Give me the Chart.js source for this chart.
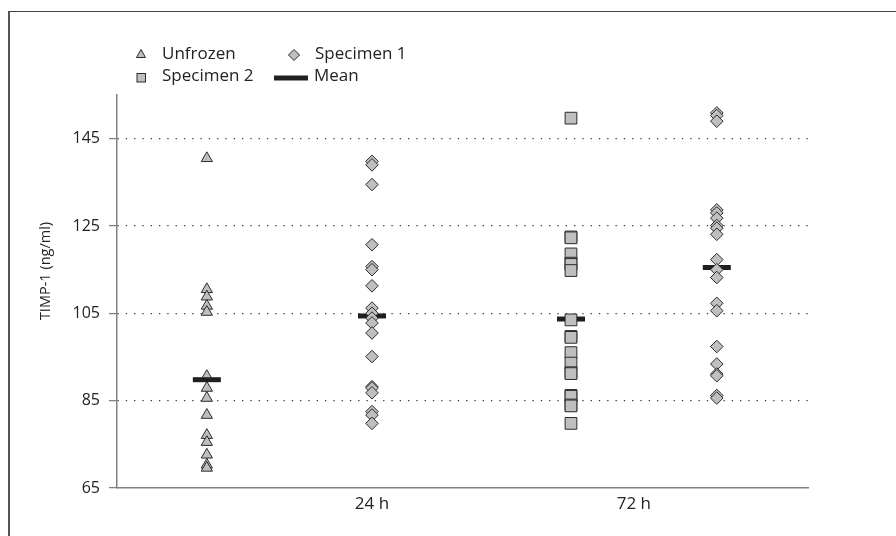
<!DOCTYPE html>
<html>
<head>
<meta charset="utf-8">
<title>TIMP-1</title>
<script src="https://cdn.jsdelivr.net/npm/chart.js@4/dist/chart.umd.min.js"></script>
<style>
  html, body { margin: 0; padding: 0; background: #fff; }
  #wrap { position: relative; width: 896px; height: 536px; overflow: hidden; }
  #frame { position: absolute; left: 8px; top: 11px; right: -4px; bottom: -4px; border-left: 2px solid #555; border-top: 1px solid #444; }
  canvas { position: absolute; left: 0; top: 0; }
</style>
</head>
<body>
<div id="wrap">
  <div id="frame"></div>
  <canvas id="chart" width="896" height="536"></canvas>
</div>
<script>
// Adatok (leolvasva az ábráról)
const seriesNames = ['Unfrozen', 'Specimen 1', 'Specimen 2', 'Mean'];
const yTitle = 'TIMP-1 (ng/ml)';
// oszlopok helye a vízszintes tengelyen (0..100)
const groupX = [13, 36.9, 65.7, 86.8];
const xTicks = [36.9, 74.8];
const xTickLabels = ['24 h', '72 h'];
const yTicks = [65, 85, 105, 125, 145];

const unfrozen = [140.5, 110.5, 108.8, 106.7, 105.3, 90.6, 87.9, 85.6, 81.7, 77.1, 75.5, 72.6, 70.3, 69.6];
const specimen1At24 = [139.8, 139.0, 134.5, 120.7, 115.7, 115.0, 111.3, 106.2, 105.0, 103.9, 102.8, 100.5, 95.1, 88.2, 87.9, 86.8, 82.5, 81.7, 79.8];
const specimen2At72 = [149.7, 122.5, 122.3, 118.6, 116.5, 116.2, 114.8, 103.5, 99.7, 99.5, 96.0, 93.6, 91.4, 91.2, 86.2, 86.0, 84.0, 83.8, 79.8];
const specimen1At72 = [150.9, 150.3, 149.0, 128.7, 128.0, 126.8, 125.1, 124.5, 123.1, 117.3, 115.0, 113.2, 107.3, 105.6, 97.4, 93.4, 91.1, 90.7, 86.2, 85.6];
const means = [89.8, 104.4, 103.7, 115.5];

const FILL = '#bfbfbf';
const EDGE = '#2b2b2b';
const TEXT = '#222';

const toPoints = (vals, x) => vals.map(v => ({ x: x, y: v }));

function markerSet(label, vals, x, style, radius, order) {
    return {
        label: label,
        data: toPoints(vals, x),
        pointStyle: style,
        pointRadius: radius,
        backgroundColor: FILL,
        borderColor: EDGE,
        borderWidth: 1,
        order: order
    };
}

// Jelmagyarázat + tengelycím
const cornerLegend = {
    id: 'cornerLegend',
    afterDraw(chart) {
        const ctx = chart.ctx;
        ctx.save();
        ctx.fillStyle = FILL;
        ctx.strokeStyle = EDGE;
        ctx.lineWidth = 1;

        // háromszög
        ctx.beginPath();
        ctx.moveTo(141, 49.5);
        ctx.lineTo(145.5, 57.5);
        ctx.lineTo(136.5, 57.5);
        ctx.closePath();
        ctx.fill(); ctx.stroke();

        // rombusz
        ctx.beginPath();
        ctx.moveTo(294, 49.5);
        ctx.lineTo(299.5, 55);
        ctx.lineTo(294, 60.5);
        ctx.lineTo(288.5, 55);
        ctx.closePath();
        ctx.fill(); ctx.stroke();

        // négyzet
        ctx.fillRect(137, 73.5, 8.5, 8.5);
        ctx.strokeRect(137, 73.5, 8.5, 8.5);

        // átlag vonal
        ctx.fillStyle = '#1f1f1f';
        ctx.fillRect(274, 75.5, 34, 5);

        ctx.fillStyle = TEXT;
        ctx.font = '17px "Open Sans"';
        ctx.textBaseline = 'alphabetic';
        ctx.fillText(seriesNames[0], 162, 59);
        ctx.fillText(seriesNames[1], 315, 59);
        ctx.fillText(seriesNames[2], 162, 81);
        ctx.fillText(seriesNames[3], 314, 81);

        // függőleges tengelycím
        ctx.translate(46, 271);
        ctx.rotate(-Math.PI / 2);
        ctx.font = '14.5px "Open Sans"';
        ctx.textAlign = 'center';
        ctx.textBaseline = 'middle';
        ctx.fillText(yTitle, 0, 0);
        ctx.restore();
    }
};

const ctx = document.getElementById('chart').getContext('2d');
new Chart(ctx, {
    type: 'scatter',
    data: {
        datasets: [
            markerSet(seriesNames[0], unfrozen, groupX[0], 'triangle', 6.5, 2),
            markerSet(seriesNames[1], specimen1At24, groupX[1], 'rectRot', 6.3, 0),
            markerSet(seriesNames[2], specimen2At72, groupX[2], 'rect', 8.3, 0),
            markerSet(seriesNames[1], specimen1At72, groupX[3], 'rectRot', 6.3, 0),
            {
                label: seriesNames[3],
                data: means.map((v, i) => ({ x: groupX[i], y: v })),
                pointStyle: 'line',
                pointRadius: 14,
                borderColor: '#1f1f1f',
                borderWidth: 5,
                order: 1
            }
        ]
    },
    options: {
        responsive: false,
        animation: false,
        layout: { padding: { left: 0, top: 95, right: 88, bottom: 0 } },
        plugins: {
            legend: { display: false },
            tooltip: { enabled: false }
        },
        scales: {
            x: {
                type: 'linear',
                min: 0,
                max: 100,
                afterBuildTicks: s => { s.ticks = xTicks.map(v => ({ value: v })); },
                afterFit: s => { s.height = 48; },
                grid: { display: false, drawTicks: false },
                border: { display: true, color: '#808080', width: 1.5 },
                ticks: {
                    padding: 6,
                    color: TEXT,
                    font: { family: '"Open Sans"', size: 17 },
                    callback: (v) => xTickLabels[xTicks.indexOf(v)] || ''
                }
            },
            y: {
                type: 'linear',
                min: 65,
                max: 155,
                afterBuildTicks: s => { s.ticks = yTicks.map(v => ({ value: v })); },
                afterFit: s => { s.width = 117; },
                grid: {
                    color: c => (c.tick && c.tick.value === 65) ? 'rgba(0,0,0,0)' : '#3a3a3a',
                    lineWidth: 1.2,
                    tickColor: '#808080',
                    tickLength: 8,
                    tickWidth: 1.3,
                    tickBorderDash: []
                },
                border: { display: true, color: '#808080', width: 1.5, dash: [1.3, 7] },
                ticks: {
                    padding: 9,
                    color: TEXT,
                    font: { family: '"Open Sans"', size: 16 }
                },
                title: { display: false }
            }
        }
    },
    plugins: [cornerLegend]
});
</script>
</body>
</html>
